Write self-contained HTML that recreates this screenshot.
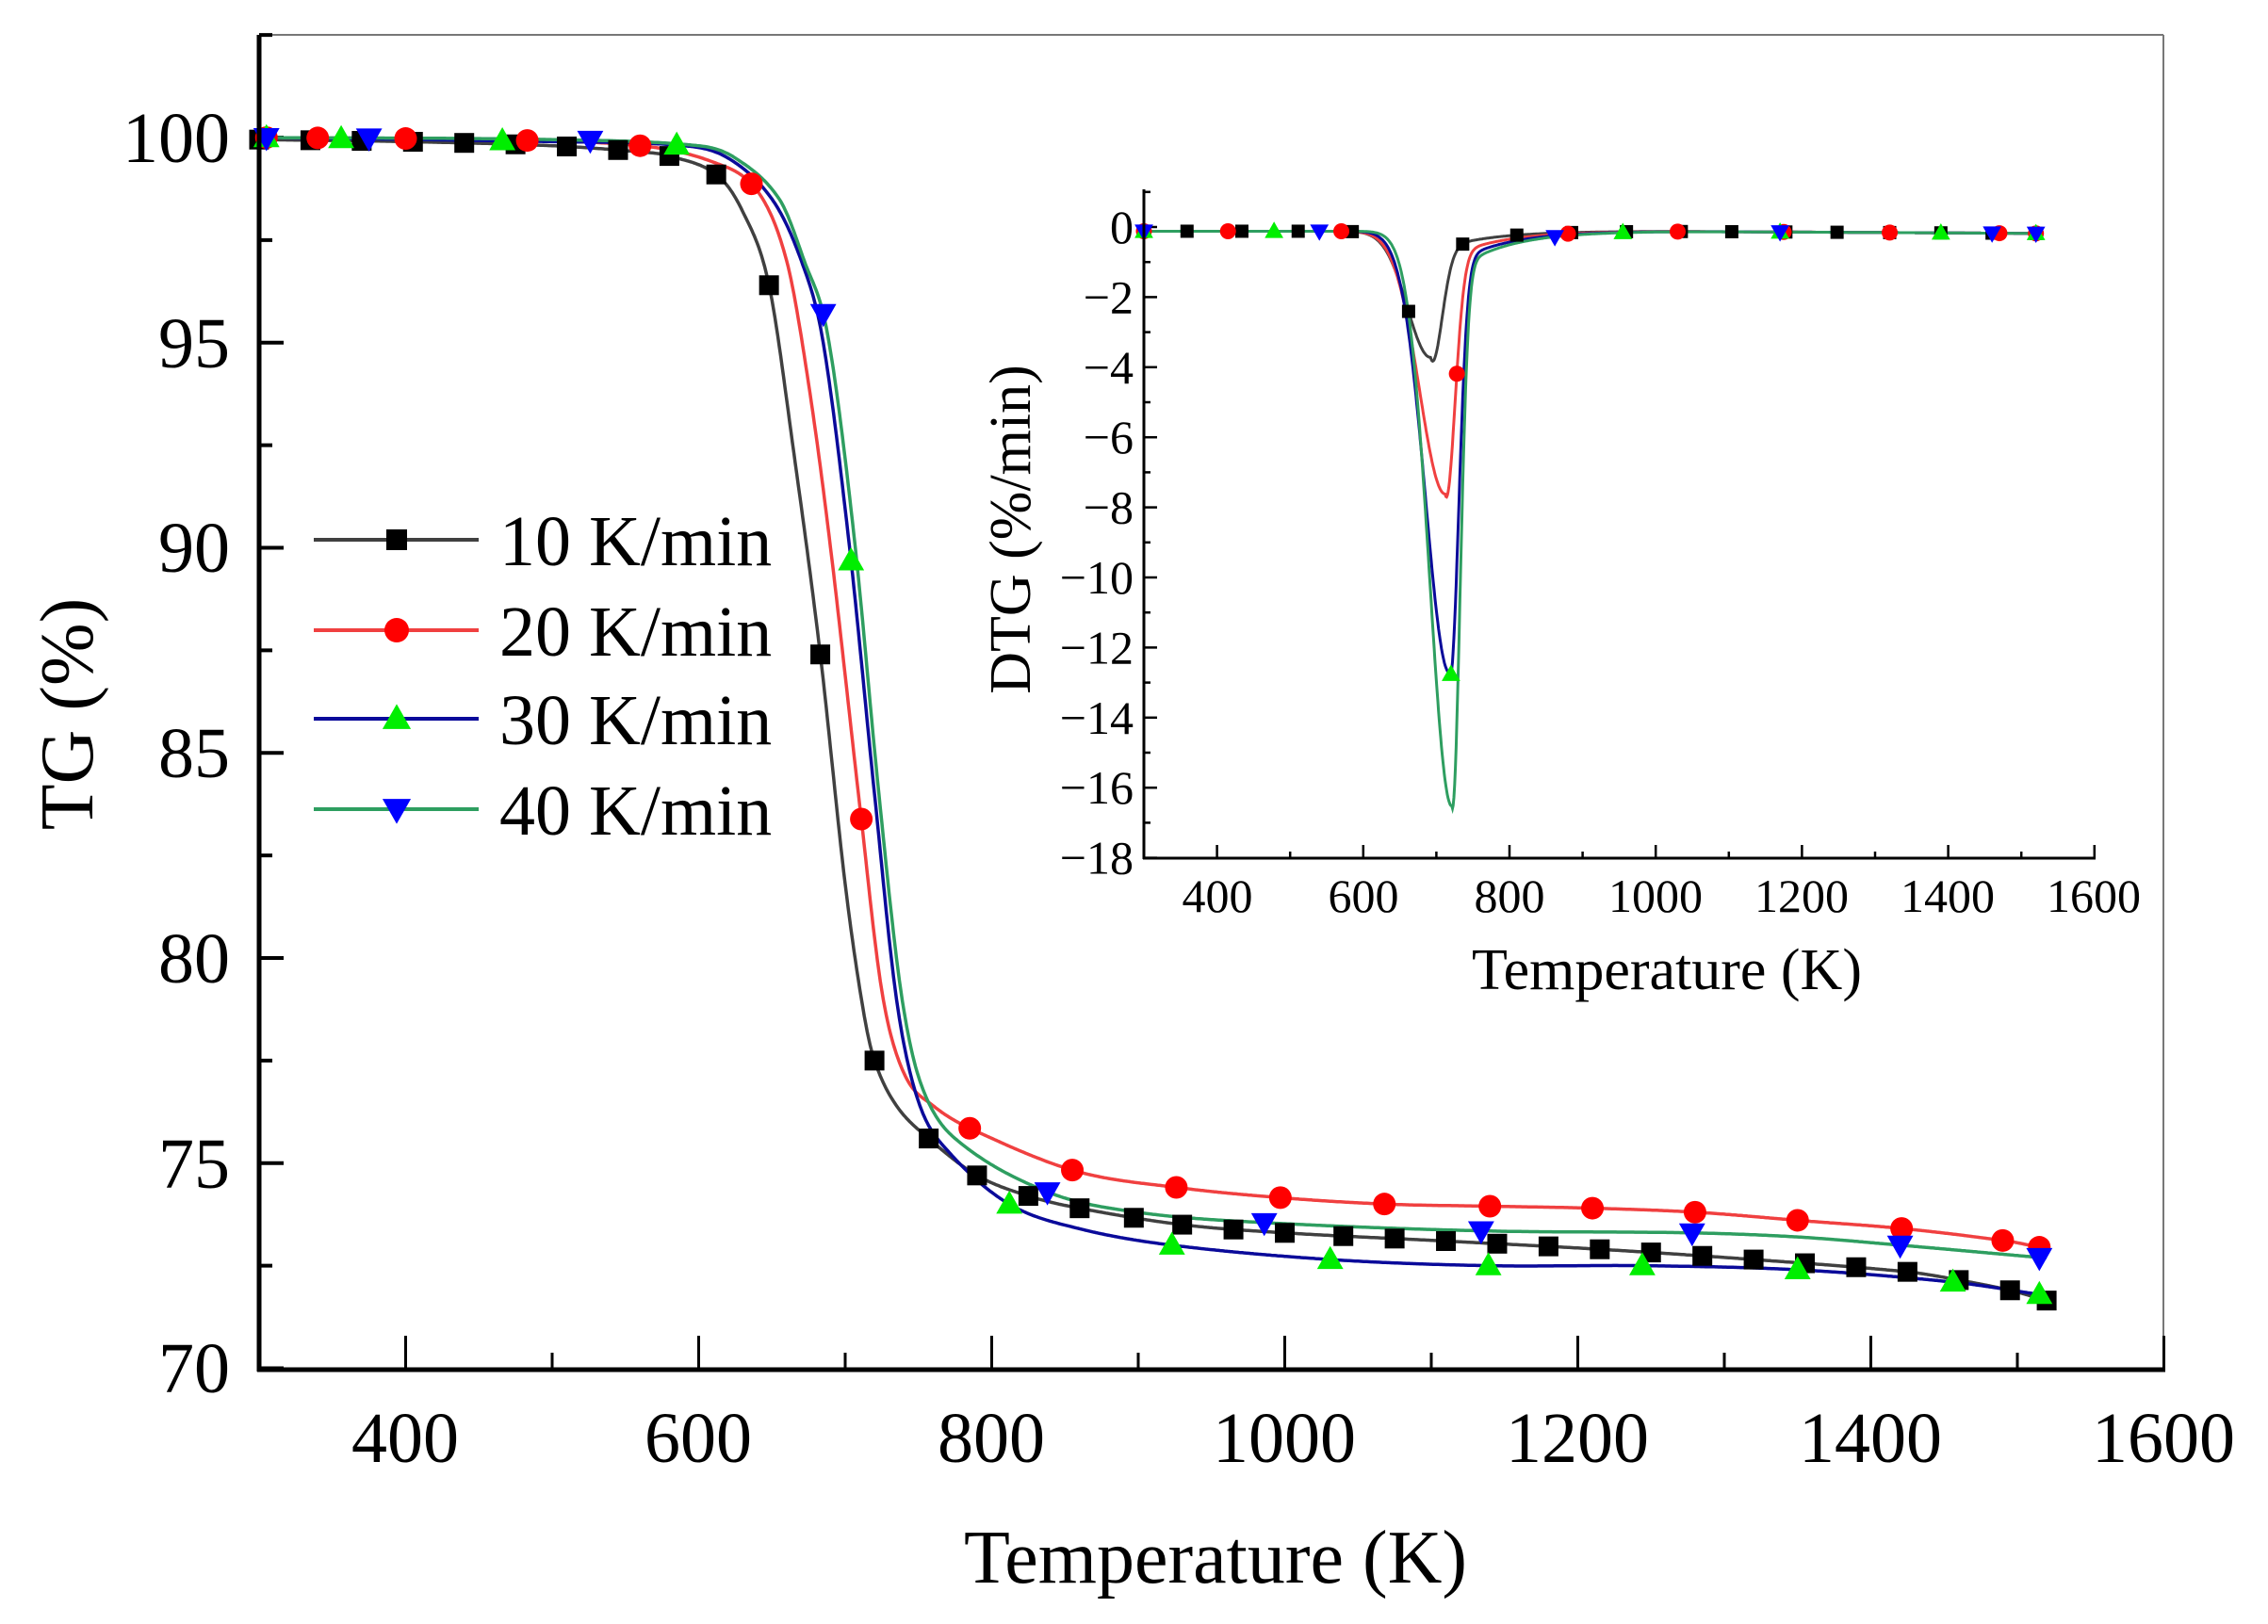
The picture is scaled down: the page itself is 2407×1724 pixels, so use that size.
<!DOCTYPE html>
<html><head><meta charset="utf-8">
<style>
html,body{margin:0;padding:0;background:#fff;}
svg{display:block;}
text{font-family:"Liberation Serif","DejaVu Serif",serif;fill:#000;}
</style></head>
<body>
<svg id="s" width="2407" height="1724" viewBox="0 0 2407 1724" xmlns="http://www.w3.org/2000/svg">
<rect width="2407" height="1724" fill="#fff"/>
<g id="g"></g>
<g font-size="76" text-anchor="middle">
<text x="430" y="1552">400</text><text x="741" y="1552">600</text><text x="1052" y="1552">800</text>
<text x="1363" y="1552">1000</text><text x="1674" y="1552">1200</text><text x="1985" y="1552">1400</text><text x="2296" y="1552">1600</text>
</g>
<g font-size="76" text-anchor="end">
<text x="244" y="172">100</text><text x="244" y="390">95</text><text x="244" y="607">90</text>
<text x="244" y="825">85</text><text x="244" y="1043">80</text><text x="244" y="1261">75</text><text x="244" y="1478">70</text>
</g>
<text x="1290" y="1680" font-size="80" text-anchor="middle">Temperature (K)</text>
<text transform="translate(98,758) rotate(-90)" font-size="80" text-anchor="middle">TG (%)</text>
<g font-size="76">
<text x="530" y="600">10 K/min</text><text x="530" y="696">20 K/min</text>
<text x="530" y="790">30 K/min</text><text x="530" y="886">40 K/min</text>
</g>
<g font-size="50" text-anchor="middle">
<text x="1292" y="968">400</text><text x="1447" y="968">600</text><text x="1602" y="968">800</text>
<text x="1757" y="968">1000</text><text x="1912" y="968">1200</text><text x="2067" y="968">1400</text><text x="2222" y="968">1600</text>
</g>
<g font-size="50" text-anchor="end" id="iy"></g>
<text x="1769" y="1050" font-size="62" text-anchor="middle">Temperature (K)</text>
<text transform="translate(1093,562) rotate(-90)" font-size="62" text-anchor="middle">DTG (%/min)</text>
</svg>
<script>
var NS="http://www.w3.org/2000/svg",G=document.getElementById("g");
function el(t,a){var e=document.createElementNS(NS,t);for(var k in a)e.setAttribute(k,a[k]);G.appendChild(e);return e;}
function mx(T){return 275+(T-300)*1.555;}
function my(v){return 146+(100-v)*43.55;}
function ix(T){return 1214+(T-300)*0.776;}
function iy(v){return 241-v*37.2;}
function interp(k,T){
 if(T<=k[0][0])return k[0][1]; var n=k.length;
 if(T>=k[n-1][0])return k[n-1][1];
 var i=0;while(k[i+1][0]<T)i++;
 var p0=k[Math.max(i-1,0)],p1=k[i],p2=k[i+1],p3=k[Math.min(i+2,n-1)];
 var t=(T-p1[0])/(p2[0]-p1[0]);
 var m1=(p2[1]-p0[1])/(p2[0]-p0[0])*(p2[0]-p1[0]);
 var m2=(p3[1]-p1[1])/(p3[0]-p1[0])*(p2[0]-p1[0]);
 var t2=t*t,t3=t2*t;
 return (2*t3-3*t2+1)*p1[1]+(t3-2*t2+t)*m1+(-2*t3+3*t2)*p2[1]+(t3-t2)*m2;
}
var K={
 k:[[300,99.95],[400,99.9],[500,99.8],[560,99.65],[580,99.55],[612,99.1],[630,98.2],[648,96.4],[665,92.3],[683,87.4],[700,81.8],[712,78.8],[720,77.5],[735,76.4],[757,75.6],[790,74.7],[825,74.2],[860,73.9],[930,73.5],[1000,73.3],[1110,73.1],[1215,72.9],[1320,72.65],[1425,72.35],[1460,72.15],[1495,71.9],[1520,71.65]],
 r:[[300,100],[450,99.95],[560,99.8],[610,99.4],[640,98.7],[660,97],[675,94],[690,90],[710,83.7],[725,79.2],[740,77.2],[760,76.4],[788,75.8],[858,74.8],[928,74.4],[1000,74.15],[1070,74.0],[1140,73.95],[1212,73.9],[1282,73.8],[1352,73.6],[1423,73.4],[1493,73.1],[1515,72.95]],
 b:[[300,100],[500,99.9],[590,99.8],[620,99.5],[650,98.5],[670,97],[685,95],[703,90],[720,84],[735,79],[750,76.5],[770,75.3],[812,74.0],[860,73.4],[923,73.0],[1031,72.65],[1139,72.5],[1244,72.5],[1350,72.4],[1456,72.1],[1515,71.8]],
 g:[[300,100],[500,99.95],[600,99.8],[625,99.5],[655,98.5],[672,97],[688,95.2],[706,90.3],[723,84],[738,79.2],[752,76.9],[775,75.6],[838,74.3],[900,73.8],[986,73.55],[1134,73.35],[1278,73.3],[1350,73.2],[1420,73.0],[1515,72.7]]
};
function pathF(f,X,Y,a,b){var d="";for(var T=a;T<=b;T+=1)d+=(d?"L":"M")+X(T).toFixed(1)+","+Y(f(T)).toFixed(1);return d;}
function marker(type,x,y,s,col){
 if(type=="sq")el("rect",{x:x-s/2,y:y-s/2,width:s,height:s,fill:col});
 else if(type=="ci")el("circle",{cx:x,cy:y,r:s/2,fill:col});
 else if(type=="up")el("polygon",{points:(x)+","+(y-s*0.6)+" "+(x-s*0.58)+","+(y+s*0.42)+" "+(x+s*0.58)+","+(y+s*0.42),fill:col});
 else el("polygon",{points:(x)+","+(y+s*0.6)+" "+(x-s*0.58)+","+(y-s*0.42)+" "+(x+s*0.58)+","+(y-s*0.42),fill:col});
}
el("line",{x1:275,y1:37,x2:2296,y2:37,stroke:"#777","stroke-width":2});
el("line",{x1:2296,y1:37,x2:2296,y2:1454,stroke:"#777","stroke-width":2});
for(var v=70;v<=102.5;v+=2.5){var y=my(v),L=(v%5==0)?26:14;el("line",{x1:275,y1:y,x2:275+L,y2:y,stroke:"#000","stroke-width":4});}
for(var T=300;T<=1600;T+=100){var x=mx(T),L=(T%200==0)?36:18;el("line",{x1:x,y1:1454,x2:x,y2:1454-L,stroke:"#000","stroke-width":3});}
var S=[["k","#404040","sq","#000"],["r","#f04040","ci","#f00"],["b","#0a0a9a","up","#00ee00"],["g","#2e9e60","dn","#0000ff"]];
var MK={k:[300,335,370,405,440,475,510,545,580,612,648,683,720,757,790,825,860,897,930,965,1000,1040,1075,1110,1145,1180,1215,1250,1285,1320,1355,1390,1425,1460,1495,1520],
 r:[305,340,400,483,560,636,711,785,855,926,997,1068,1140,1210,1280,1350,1421,1490,1515],
 b:[305,356,466,585,704,812,923,1031,1139,1244,1350,1456,1515],
 g:[305,375,526,685,838,986,1134,1278,1420,1515]};
S.forEach(function(s){el("path",{d:pathF(function(T){return interp(K[s[0]],T)},mx,my,300,1520),fill:"none",stroke:s[1],"stroke-width":3.5});});
S.forEach(function(s){MK[s[0]].forEach(function(T){marker(s[2],mx(T),my(interp(K[s[0]],T)),s[2]=="sq"?21:24,s[3]);});});
var ly=[573,669,763,859];
S.forEach(function(s,i){el("line",{x1:333,y1:ly[i],x2:508,y2:ly[i],stroke:s[1],"stroke-width":4});marker(s[2],421,ly[i],s[2]=="sq"?22:26,s[3]);});
el("line",{x1:275,y1:37,x2:275,y2:1456,stroke:"#000","stroke-width":5});
el("line",{x1:273,y1:1454,x2:2298,y2:1454,stroke:"#000","stroke-width":5});
for(var v=-18;v<=1;v+=1){var y=iy(v),L=(v%2==0)?14:7;el("line",{x1:1214,y1:y,x2:1214+L,y2:y,stroke:"#000","stroke-width":2.5});}
var IY=document.getElementById("iy");
for(var v=0;v>=-18;v-=2){var t=document.createElementNS(NS,"text");t.setAttribute("x",1203);t.setAttribute("y",iy(v)+17);t.textContent=(v==0?"0":"\u2212"+(-v));IY.appendChild(t);}
for(var T=300;T<=1600;T+=100){var x=ix(T),L=(T%200==0)?14:7;el("line",{x1:x,y1:911,x2:x,y2:911-L,stroke:"#000","stroke-width":2.5});}
function dtg(A,Tp,sl,sr,tail,tw){return function(T){var s=T<Tp?sl:sr;var v=-0.12-A*Math.exp(-(T-Tp)*(T-Tp)/(2*s*s));
 if(T>Tp)v-=tail*Math.exp(-(T-Tp)/tw)*(1-Math.exp(-(T-Tp)/8));return v-0.00012*Math.max(0,T-1000);};}
var D={k:dtg(3.6,692,31.5,15,0.6,70),r:dtg(7.5,712,34.9,13,0.8,70),b:dtg(12.6,718,32.7,12,1.0,70),g:dtg(16.4,721,30,11,1.2,70)};
var IM={k:[300,359,434,511,585,662,736,810,885,960,1035,1104,1178,1248,1320,1390,1460,1520],
 r:[300,415,570,728,880,1030,1175,1320,1470,1520],
 b:[300,478,720,955,1170,1390,1520],
 g:[300,540,862,1170,1460,1520]};
S.forEach(function(s){el("path",{d:pathF(D[s[0]],ix,iy,300,1520),fill:"none",stroke:s[1],"stroke-width":3});});
S.forEach(function(s){IM[s[0]].forEach(function(T){marker(s[2],ix(T),iy(D[s[0]](T)),s[2]=="sq"?14:17,s[3]);});});
el("line",{x1:1214,y1:201,x2:1214,y2:912,stroke:"#000","stroke-width":3});
el("line",{x1:1213,y1:911,x2:2224,y2:911,stroke:"#000","stroke-width":3});
</script>
</body></html>
